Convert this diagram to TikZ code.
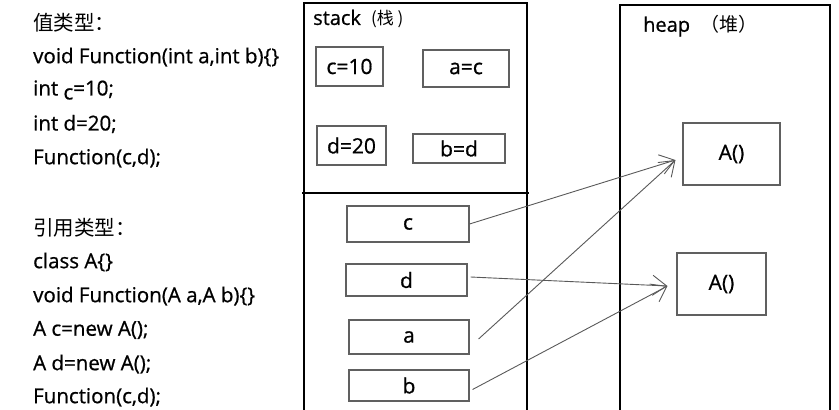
\documentclass[tikz,border=0pt]{standalone}
\usepackage{fontspec}
\setmainfont{Open Sans}[FakeBold=0.8]
\newfontfamily\cjk{Noto Sans CJK SC}
\usetikzlibrary{arrows.meta}

\tikzset{
  code/.style={anchor=west, inner sep=0pt, font=\fontsize{20.5}{20.5}\selectfont},
  cell/.style={draw=gray!75!black, line width=1.1pt, inner sep=0pt, font=\fontsize{21}{21}\selectfont},
  area/.style={draw=black, line width=2.2pt},
  ref/.style={draw=gray!70!black, line width=0.9pt, -{Straight Barb[length=14pt,width=20pt,line width=0.9pt]}}
}

\begin{document}
\begin{tikzpicture}[x=1pt, y=-1pt]
            \useasboundingbox (0,0) rectangle (839,410);
            % code on the left
            \node [code] (v1) at (33,23) {\cjk 值类型：};
            \node [code] (v2) at (33,57) {void Function(int a,int b)\{\}};
            \node [code] (v3) at (33,90) {int \raisebox{-4pt}{c}=10;};
            \node [code] (v4) at (33,124) {int d=20;};
            \node [code] (v5) at (33,158) {Function(c,d);};
            \node [code] (r1) at (33,228) {\cjk 引用类型：};
            \node [code] (r2) at (33,262) {class A\{\}};
            \node [code] (r3) at (33,296) {void Function(A a,A b)\{\}};
            \node [code] (r4) at (33,330) {A c=new A();};
            \node [code] (r5) at (33,364) {A d=new A();};
            \node [code] (r6) at (33,397) {Function(c,d);};
            % stack and heap
            \draw [area] (304,3) rectangle (527,412);
            \draw [area] (302,193) -- (529,193);
            \draw [area] (620,5) rectangle (830,412);
            \node [code, font=\fontsize{20}{20}\selectfont] (stack) at (313,19) {stack \hspace{5pt}{\cjk\fontsize{17}{17}\selectfont (栈 )}};
            \node [code, font=\fontsize{20}{20}\selectfont] (heap) at (643,26) {heap \ {\cjk\fontsize{19}{19}\selectfont （堆）}};
            % value cells
            \node [cell, minimum width=67, minimum height=39] (c10) at (349.5,66.5) {c=10};
            \node [cell, minimum width=86, minimum height=37] (ac) at (466,68.5) {a=c};
            \node [cell, minimum width=69, minimum height=39] (d20) at (351.5,145.5) {d=20};
            \node [cell, minimum width=92, minimum height=29] (bd) at (459,148.5) {b=d};
            % reference cells
            \node [cell, minimum width=122, minimum height=36] (c) at (408,224) {c};
            \node [cell, minimum width=121, minimum height=32] (d) at (406.5,280) {d};
            \node [cell, minimum width=120, minimum height=34] (a) at (409,337) {a};
            \node [cell, minimum width=120, minimum height=31] (b) at (409,385.5) {b};
            % objects
            \node [cell, minimum width=97, minimum height=62] (A1) at (731.5,154) {A()};
            \node [cell, minimum width=89, minimum height=62] (A2) at (721.5,284) {A()};
            % references
            \draw [ref] (c.east) -- ([xshift=-7pt, yshift=-6pt]A1.west);
            \draw [ref] ([xshift=9pt, yshift=-2pt]a.east) -- ([xshift=-7pt, yshift=-6pt]A1.west);
            \draw [ref] ([xshift=3pt, yshift=3pt]d.east) -- ([xshift=-9pt, yshift=-2pt]A2.west);
            \draw [ref] ([xshift=3pt, yshift=-4pt]b.east) -- ([xshift=-9pt, yshift=-2pt]A2.west);
        \end{tikzpicture}
\end{document}
